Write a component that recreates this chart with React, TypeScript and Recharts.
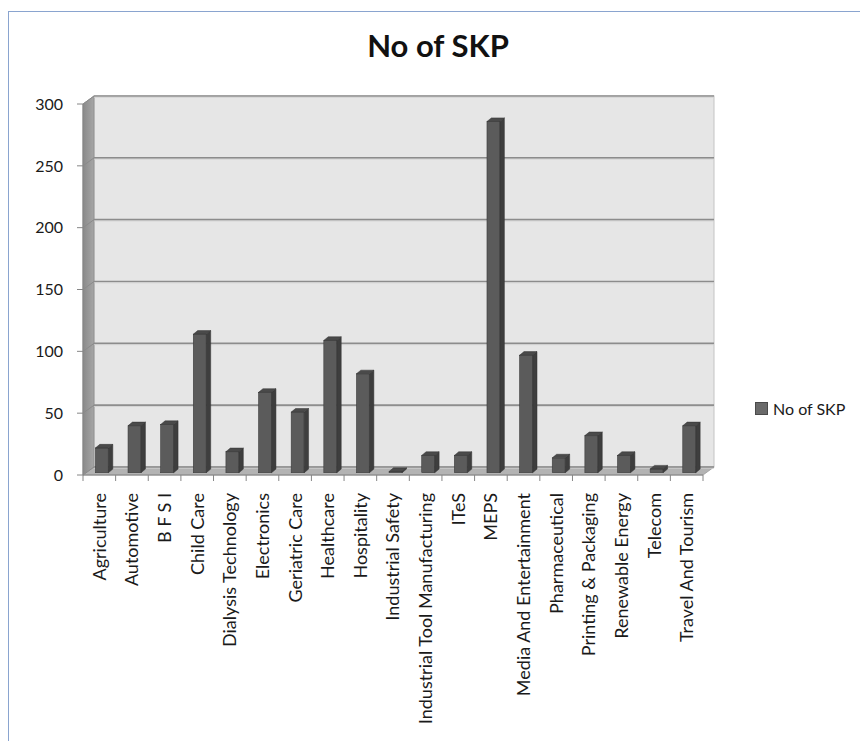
import React from "react";
import { BarChart, Bar, XAxis, YAxis, CartesianGrid, Legend } from "recharts";

const categories = [
  "Agriculture",
  "Automotive",
  "B F S I",
  "Child Care",
  "Dialysis Technology",
  "Electronics",
  "Geriatric Care",
  "Healthcare",
  "Hospitality",
  "Industrial Safety",
  "Industrial Tool Manufacturing",
  "ITeS",
  "MEPS",
  "Media And Entertainment",
  "Pharmaceutical",
  "Printing & Packaging",
  "Renewable Energy",
  "Telecom",
  "Travel And Tourism",
];
const skpValues = [20, 38, 39, 112, 17, 65, 49, 107, 80, 1, 14, 14, 284, 95, 12, 30, 14, 3, 38];
const yTicks = [0, 50, 100, 150, 200, 250, 300];
const seriesName = "No of SKP";
const chartTitle = "No of SKP";

const data = categories.map((c, i) => ({ category: c, value: skpValues[i] }));

// layout
const W = 860;
const H = 741;
const X0 = 83; // front plot left
const X1 = 703; // front plot right
const YTOP = 104; // front plot top (value 300)
const YBOT = 475; // front plot bottom (value 0)
const DX = 11; // depth offset to back wall
const DY = -8;
const Y_AXIS_W = 60;
const X_AXIS_H = 250;
const FONT = "Lato, 'Open Sans', sans-serif";

const margin = {
  top: YTOP,
  left: X0 - Y_AXIS_W,
  right: W - X1,
  bottom: H - YBOT - X_AXIS_H,
};
const band = (X1 - X0) / categories.length;

const Bar3D = (props: any) => {
  const { x, y, width, height } = props;
  if (x == null || y == null) return null;
  const ox = 2.4;
  const oy = -2.3;
  const dx = 4.4;
  const dy = -3.6;
  const fx = x + ox;
  const fy = y + oy;
  const h = Math.max(0, height);
  return (
    <g>
      <rect x={fx} y={fy} width={width} height={h} fill="#5b5b5b" stroke="#3c3c3c" strokeWidth={0.6} />
      <polygon
        points={`${fx + width},${fy} ${fx + width + dx},${fy + dy} ${fx + width + dx},${fy + h + dy} ${fx + width},${fy + h}`}
        fill="#3e3e3e"
        stroke="#333"
        strokeWidth={0.5}
      />
      <polygon
        points={`${fx},${fy} ${fx + dx},${fy + dy} ${fx + width + dx},${fy + dy} ${fx + width},${fy}`}
        fill="#4a4a4a"
        stroke="#333"
        strokeWidth={0.5}
      />
    </g>
  );
};

const XTick = (props: any) => {
  const { x, y, payload, index } = props;
  const last = index === categories.length - 1;
  return (
    <g>
      <line x1={x - band / 2} y1={y} x2={x - band / 2} y2={y + 6} stroke="#868686" />
      {last && <line x1={x + band / 2} y1={y} x2={x + band / 2} y2={y + 6} stroke="#868686" />}
      <text
        transform={`translate(${x},${y + 18}) rotate(-90)`}
        textAnchor="end"
        dy="0.36em"
        fontSize={18}
        fill="#1a1a1a"
        fontFamily={FONT}
      >
        {payload.value}
      </text>
    </g>
  );
};

const gridLine = (p: any) => {
  const { x1, y1, x2, key } = p;
  return (
    <g key={key}>
      <path d={`M${x1},${y1} L${x1 + DX},${y1 + DY}`} stroke="#8a8a8a" strokeWidth={1} fill="none" />
      <path d={`M${x1 + DX},${y1 + DY} L${x2 + DX},${y1 + DY}`} stroke="#8c8c8c" strokeWidth={1.6} fill="none" />
      <path d={`M${x1 + DX},${y1 + DY + 1.3} L${x2 + DX},${y1 + DY + 1.3}`} stroke="#d0d0d0" strokeWidth={0.8} fill="none" />
    </g>
  );
};

const LegendContent = (props: any) => {
  const { payload } = props;
  return (
    <div style={{ fontFamily: FONT, fontSize: 16, color: "#1a1a1a", width: 110 }}>
      {(payload || []).map((item: any) => (
        <div key={item.value} style={{ display: "flex", alignItems: "center", whiteSpace: "nowrap" }}>
          <span
            style={{
              display: "inline-block",
              width: 11,
              height: 11,
              background: "#6a6a6a",
              border: "1px solid #4a4a4a",
              marginRight: 5,
            }}
          />
          <span>{item.value}</span>
        </div>
      ))}
    </div>
  );
};

export default function App() {
  return (
    <div style={{ position: "absolute", left: 0, top: 0, width: W, height: H, background: "#fff", fontFamily: FONT }}>
      <div
        style={{
          position: "absolute",
          left: 8,
          top: 11,
          width: W - 8,
          height: H - 11,
          borderTop: "1.5px solid #8aa4cf",
          borderLeft: "1.5px solid #8aa4cf",
          boxSizing: "border-box",
        }}
      />
      <svg width={W} height={H} style={{ position: "absolute", left: 0, top: 0 }}>
        <defs>
          <linearGradient id="lw" x1="0" y1="0" x2="1" y2="0">
            <stop offset="0" stopColor="#8a8a8a" />
            <stop offset="1" stopColor="#a6a6a6" />
          </linearGradient>
        </defs>
        <rect x={X0 + DX} y={YTOP + DY} width={X1 - X0} height={YBOT - YTOP} fill="#e6e6e6" stroke="#c4c4c4" strokeWidth={1} />
        <polygon
          points={`${X0},${YTOP} ${X0 + DX},${YTOP + DY} ${X0 + DX},${YBOT + DY} ${X0},${YBOT}`}
          fill="url(#lw)"
          stroke="#8a8a8a"
          strokeWidth={0.8}
        />
        <polygon
          points={`${X0},${YBOT} ${X0 + DX},${YBOT + DY} ${X1 + DX},${YBOT + DY} ${X1},${YBOT}`}
          fill="#b3b3b3"
          stroke="#9a9a9a"
          strokeWidth={0.8}
        />
        <text x={438} y={57} textAnchor="middle" fontSize={31} fontWeight="bold" fill="#111" fontFamily={FONT}>
          {chartTitle}
        </text>
      </svg>
      <div style={{ position: "absolute", left: 0, top: 0 }}>
        <BarChart width={W} height={H} data={data} margin={margin} barCategoryGap={0}>
          <CartesianGrid vertical={false} horizontal={gridLine} />
          <XAxis
            dataKey="category"
            interval={0}
            height={X_AXIS_H}
            tickLine={false}
            tickSize={0}
            tickMargin={0}
            axisLine={{ stroke: "#868686" }}
            tick={<XTick />}
          />
          <YAxis
            domain={[0, 300]}
            ticks={yTicks}
            width={Y_AXIS_W}
            tickSize={6}
            tickMargin={14}
            axisLine={{ stroke: "#868686" }}
            tickLine={{ stroke: "#868686" }}
            tick={{ fontSize: 16, fill: "#1a1a1a", fontFamily: FONT }}
            interval={0}
          />
          <Bar dataKey="value" name={seriesName} fill="#5b5b5b" barSize={13} shape={Bar3D} isAnimationActive={false} />
          <Legend
            layout="horizontal"
            verticalAlign="middle"
            align="right"
            content={<LegendContent />}
            wrapperStyle={{ position: "absolute", left: 755, top: 399, width: 0, height: 0, overflow: "visible" }}
          />
        </BarChart>
      </div>
    </div>
  );
}
